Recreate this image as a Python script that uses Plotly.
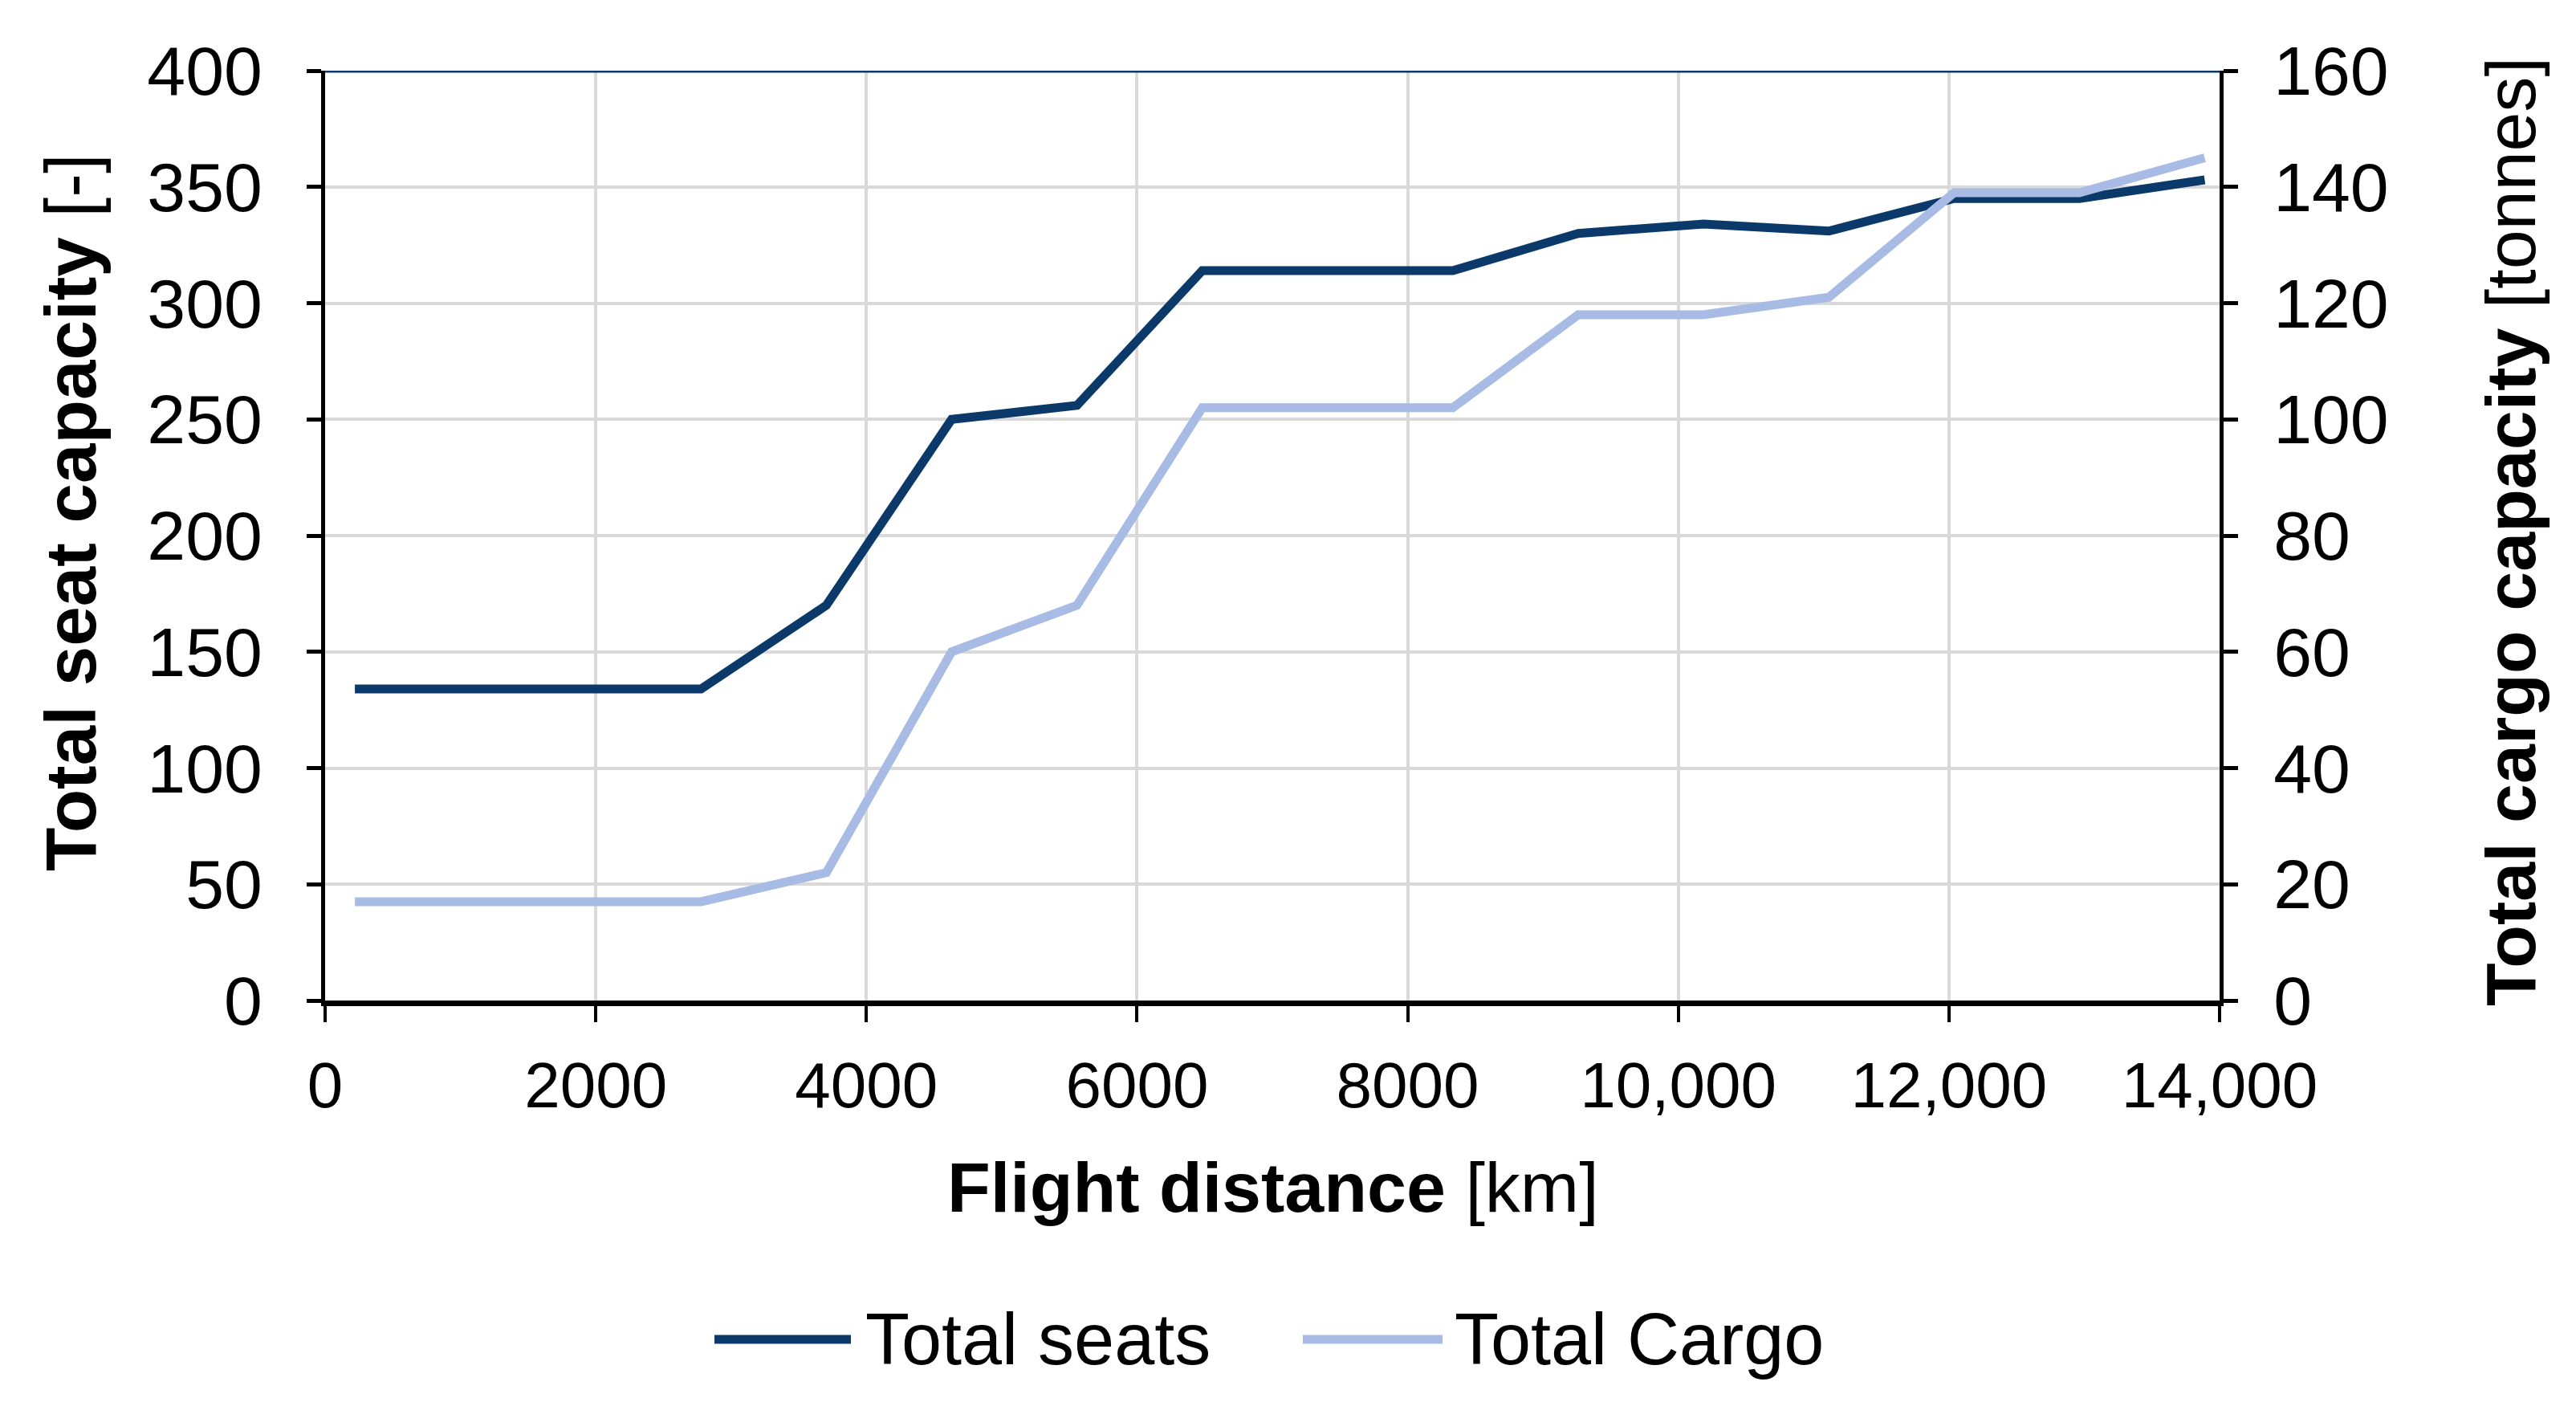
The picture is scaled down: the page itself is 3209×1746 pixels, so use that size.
import plotly.graph_objects as go

distance_km = [220, 2778, 3704, 4630, 5556, 6482, 8334, 9260, 10186, 11112, 12038, 12964, 13890]
total_seats = [134, 134, 170, 250, 256, 314, 314, 330, 334, 331, 345, 345, 353]
total_cargo = [17, 17, 22, 60, 68, 102, 102, 118, 118, 121, 139, 139, 145]

x_tickvals = [0, 2000, 4000, 6000, 8000, 10000, 12000, 14000]
x_ticktext = ["0", "2000", "4000", "6000", "8000", "10,000", "12,000", "14,000"]
seat_ticks = [0, 50, 100, 150, 200, 250, 300, 350, 400]
cargo_ticks = [0, 20, 40, 60, 80, 100, 120, 140, 160]
series_names = ["Total seats", "Total Cargo"]

NAVY = "#0b3a6a"
LIGHT = "#a8bbe5"
FONT = "Liberation Sans, Arial, sans-serif"
W, H = 3209, 1746
OFF = 8  # default page body margin
L, R, T, B = 405 - OFF, 444 + OFF, 88 - OFF, 500 + OFF
PW, PH = W - L - R, H - T - B


def px(xpage):
    return (xpage - OFF - L) / PW


def py(ypage):
    return (H - B - (ypage - OFF)) / PH


fig = go.Figure()
fig.add_trace(go.Scatter(x=distance_km, y=total_seats, mode="lines", name=series_names[0],
                         line=dict(color=NAVY, width=11), yaxis="y"))
fig.add_trace(go.Scatter(x=distance_km, y=total_cargo, mode="lines", name=series_names[1],
                         line=dict(color=LIGHT, width=11), yaxis="y2"))

fig.update_layout(
    width=W, height=H,
    paper_bgcolor="white", plot_bgcolor="white",
    margin=dict(l=L, r=R, t=T, b=B, autoexpand=False),
    font=dict(family=FONT, size=80, color="black"),
    showlegend=False,
    xaxis=dict(
        range=[0, 14000], tickvals=x_tickvals, ticktext=x_ticktext,
        showgrid=True, gridcolor="#d9d9d9", gridwidth=4,
        showline=True, linecolor="black", linewidth=7,
        ticks="outside", ticklen=20, tickwidth=4, tickcolor="black",
        ticklabelstandoff=10, tickfont=dict(size=80),
        zeroline=False, automargin=False,
    ),
    yaxis=dict(
        range=[0, 400], tickvals=seat_ticks,
        showgrid=True, gridcolor="#d9d9d9", gridwidth=4,
        showline=True, linecolor="black", linewidth=5,
        ticks="outside", ticklen=18, tickwidth=5, tickcolor="black",
        ticklabelstandoff=38, tickfont=dict(size=86),
        zeroline=False, automargin=False,
    ),
    yaxis2=dict(
        range=[0, 160], tickvals=cargo_ticks, overlaying="y", side="right",
        showgrid=False,
        showline=True, linecolor="black", linewidth=5,
        ticks="outside", ticklen=18, tickwidth=5, tickcolor="black",
        ticklabelstandoff=27, tickfont=dict(size=86),
        zeroline=False, automargin=False,
    ),
)

# axis titles
fig.add_annotation(text="<b>Total seat capacity</b> [-]", xref="paper", yref="paper",
                   x=px(88), y=py(638), textangle=-90, showarrow=False,
                   xanchor="center", yanchor="middle", font=dict(size=89))
fig.add_annotation(text="<b>Total cargo capacity</b> [tonnes]", xref="paper", yref="paper",
                   x=px(3127), y=py(662), textangle=-90, showarrow=False,
                   xanchor="center", yanchor="middle", font=dict(size=88))
fig.add_annotation(text="<b>Flight distance</b> [km]", xref="paper", yref="paper",
                   x=px(1586), y=py(1478), showarrow=False,
                   xanchor="center", yanchor="middle", font=dict(size=88))

# top border line
fig.add_shape(type="line", xref="x", yref="y", x0=0, x1=14000, y0=400, y1=400,
              line=dict(color=NAVY, width=5), layer="above")

# legend
leg_y = py(1668)
for (x0, x1, tx), name, col in zip([(890, 1060, 1076), (1623, 1797, 1810)], series_names, [NAVY, LIGHT]):
    fig.add_shape(type="line", xref="paper", yref="paper", x0=px(x0), x1=px(x1),
                  y0=leg_y, y1=leg_y, line=dict(color=col, width=11))
    fig.add_annotation(text=name, xref="paper", yref="paper", x=px(tx), y=leg_y,
                       showarrow=False, xanchor="left", yanchor="middle",
                       font=dict(size=90))

fig.write_html("out.html")
